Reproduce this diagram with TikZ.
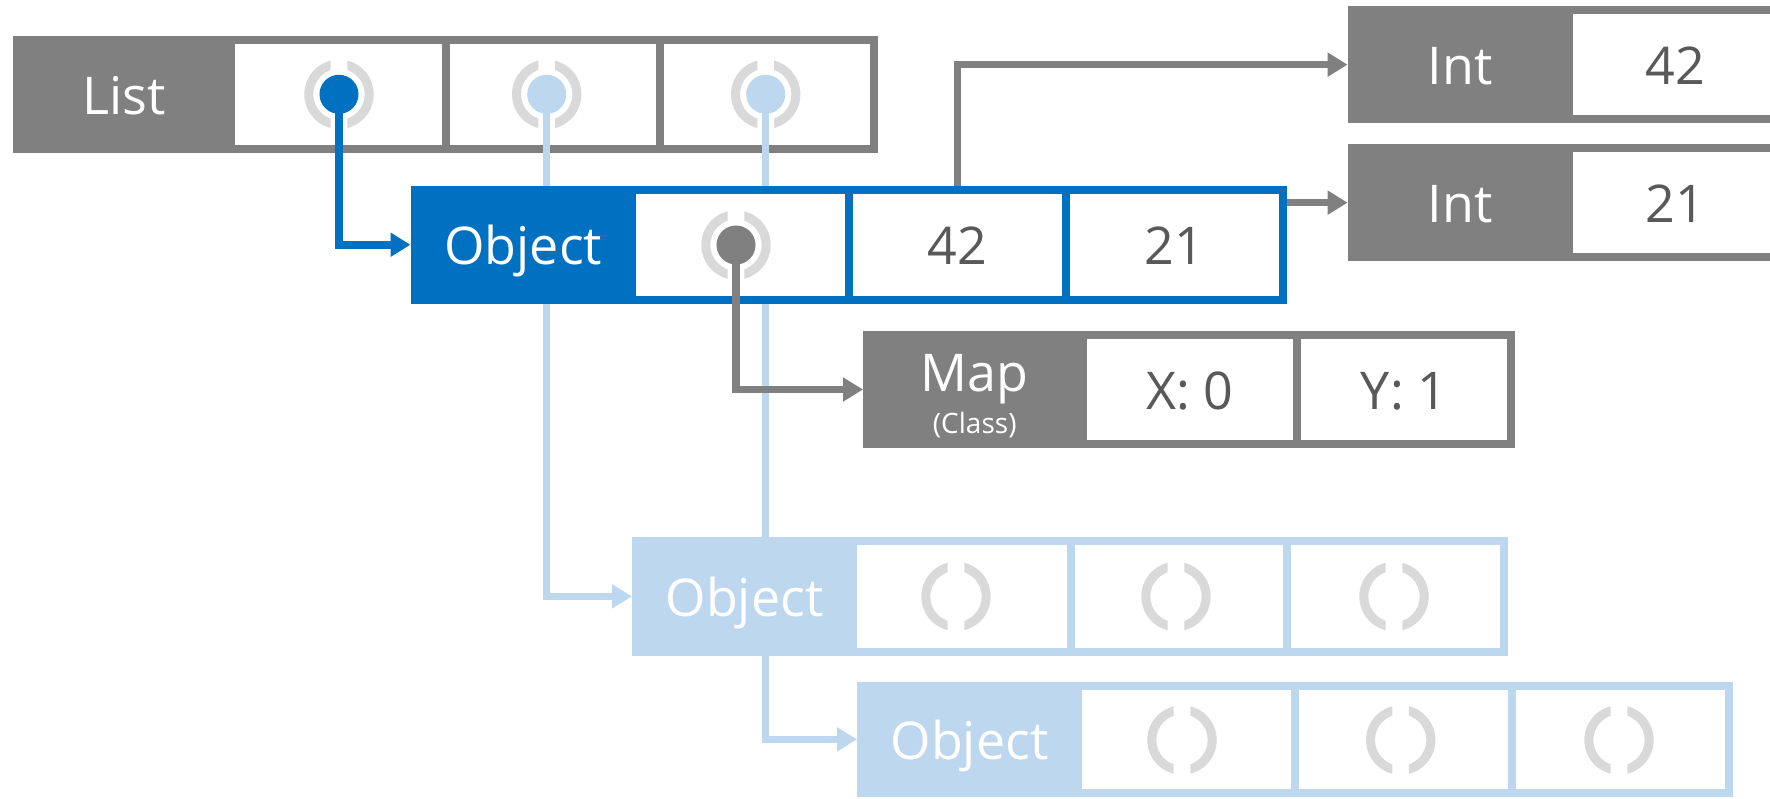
\documentclass[tikz,border=0pt]{standalone}
\usepackage{fontspec}
\setmainfont{Open Sans}
\usetikzlibrary{arrows.meta}

\definecolor{boxgray}{HTML}{808080}
\definecolor{objblue}{HTML}{0070C0}
\definecolor{paleblue}{HTML}{BDD7EE}
\definecolor{ringgray}{HTML}{D9D9D9}
\definecolor{valgray}{HTML}{595959}

\newcommand\bigtext{\fontsize{52}{60}\selectfont}
\newcommand\smalltext{\fontsize{28}{32}\selectfont}

% the list sits lowest, its pointers above it, everything else on top
\pgfdeclarelayer{listlayer}
\pgfdeclarelayer{linklayer}
\pgfsetlayers{listlayer,linklayer,main}

\tikzset{
  head/.style={rectangle, draw=#1, fill=#1, line width=8pt, inner sep=0pt,
    text=white, font=\bigtext, text height=40pt, text depth=0pt},
  field/.style={rectangle, draw=#1, fill=white, line width=8pt, inner sep=0pt,
    text=valgray, font=\bigtext, text height=40pt, text depth=0pt},
  ptr/.style={draw=#1, line width=7.5pt, -{Triangle[length=20pt,width=23pt]}},
  dot/.style={circle, fill=#1, minimum size=39pt, inner sep=0pt},
  socket/.pic={
    \begin{scope}
      \clip (-40,-40) rectangle (-8.3,40) (8.3,-40) rectangle (40,40);
      \fill[ringgray, even odd rule] (0,0) circle (34.7) (0,0) circle (25.7);
    \end{scope}
  }
}

\begin{document}
\begin{tikzpicture}[x=1pt,y=-1pt]
\clip (0,0) rectangle (1770,798);

% ---- List record
\begin{pgfonlayer}{listlayer}
\fill[white] (0,0) rectangle (1770,798);
\node[head=boxgray,  minimum width=214.4pt, minimum height=109pt] (listh) at (123.8,94.5) {List};
\node[field=boxgray, minimum width=215pt, minimum height=109pt] (listc1) at (338.5,94.5) {};
\node[field=boxgray, minimum width=214pt, minimum height=109pt] (listc2) at (553,94.5) {};
\node[field=boxgray, minimum width=214pt, minimum height=109pt] (listc3) at (767,94.5) {};
\pic at (339,94.3) {socket};
\pic at (546.7,94.3) {socket};
\pic at (765.7,94.3) {socket};
\node[dot=objblue]  (ldot1) at (339,94.3) {};
\node[dot=paleblue] (ldot2) at (546.7,94.3) {};
\node[dot=paleblue] (ldot3) at (765.7,94.3) {};
\end{pgfonlayer}

% ---- current object
\node[head=objblue,  minimum width=217.5pt, minimum height=110.5pt] (objh) at (523.25,244.75) {Object};
\node[field=objblue, minimum width=217pt, minimum height=110.5pt] (objc1) at (740.5,244.75) {};
\node[field=objblue, minimum width=217pt, minimum height=110.5pt] (objc2) at (957.5,244.75) {42};
\node[field=objblue, minimum width=217pt, minimum height=110.5pt] (objc3) at (1174.5,244.75) {21};
\pic at (736,245) {socket};
\node[dot=boxgray] (odot) at (736,245) {};

% ---- boxed integers
\node[head=boxgray,  minimum width=217.4pt, minimum height=109.3pt] (i42h) at (1460.3,64.65) {Int};
\node[field=boxgray, minimum width=212pt, minimum height=109.3pt] (i42c) at (1675,64.65) {42};
\node[head=boxgray,  minimum width=217.4pt, minimum height=108.7pt] (i21h) at (1460.3,202.65) {Int};
\node[field=boxgray, minimum width=212pt, minimum height=108.7pt] (i21c) at (1675,202.65) {21};

% ---- class map
\node[head=boxgray,  minimum width=215.5pt, minimum height=109pt] (maph) at (974.75,389.5) {};
\node[field=boxgray, minimum width=214.5pt, minimum height=109pt] (mapc1) at (1189.75,389.5) {X: 0};
\node[field=boxgray, minimum width=214pt, minimum height=109pt] (mapc2) at (1404,389.5) {Y: 1};
\node[font=\bigtext, text=white, anchor=base, inner sep=0pt] (mapname) at (974.75,391.7) {Map};
\node[font=\smalltext, text=white, anchor=base, inner sep=0pt] (mapclass) at (974.75,433.3) {(Class)};

% object field pointers
\draw[ptr=boxgray] (odot.center) |- (maph.west);
\draw[ptr=boxgray] (objc2.north) |- (i42h.west);
\draw[ptr=boxgray] (objc3.east |- i21h.west) -- (i21h.west);

% ---- further list objects
\node[head=paleblue,  minimum width=217pt, minimum height=110.7pt] (l1h) at (744.5,596.35) {Object};
\node[field=paleblue, minimum width=218pt, minimum height=110.7pt] (l1c1) at (962,596.35) {};
\node[field=paleblue, minimum width=216pt, minimum height=110.7pt] (l1c2) at (1179,596.35) {};
\node[field=paleblue, minimum width=217pt, minimum height=110.7pt] (l1c3) at (1395.5,596.35) {};
\pic at (956,596.5) {socket};
\pic at (1176,596.5) {socket};
\pic at (1394,596.5) {socket};

\node[head=paleblue,  minimum width=217pt, minimum height=107.3pt] (l2h) at (969.5,739.35) {Object};
\node[field=paleblue, minimum width=216.5pt, minimum height=107.3pt] (l2c1) at (1186.25,739.35) {};
\node[field=paleblue, minimum width=217.5pt, minimum height=107.3pt] (l2c2) at (1403.25,739.35) {};
\node[field=paleblue, minimum width=217pt, minimum height=107.3pt] (l2c3) at (1620.5,739.35) {};
\pic at (1182,740) {socket};
\pic at (1400.7,740) {socket};
\pic at (1619,740) {socket};

% ---- list element pointers, passing beneath the objects
\begin{pgfonlayer}{linklayer}
\draw[ptr=paleblue] (ldot2.center) |- (l1h.west);
\draw[ptr=paleblue] (ldot3.center) |- (l2h.west);
\draw[ptr=objblue]  (ldot1.center) |- (objh.west);
\end{pgfonlayer}
\end{tikzpicture}
\end{document}
